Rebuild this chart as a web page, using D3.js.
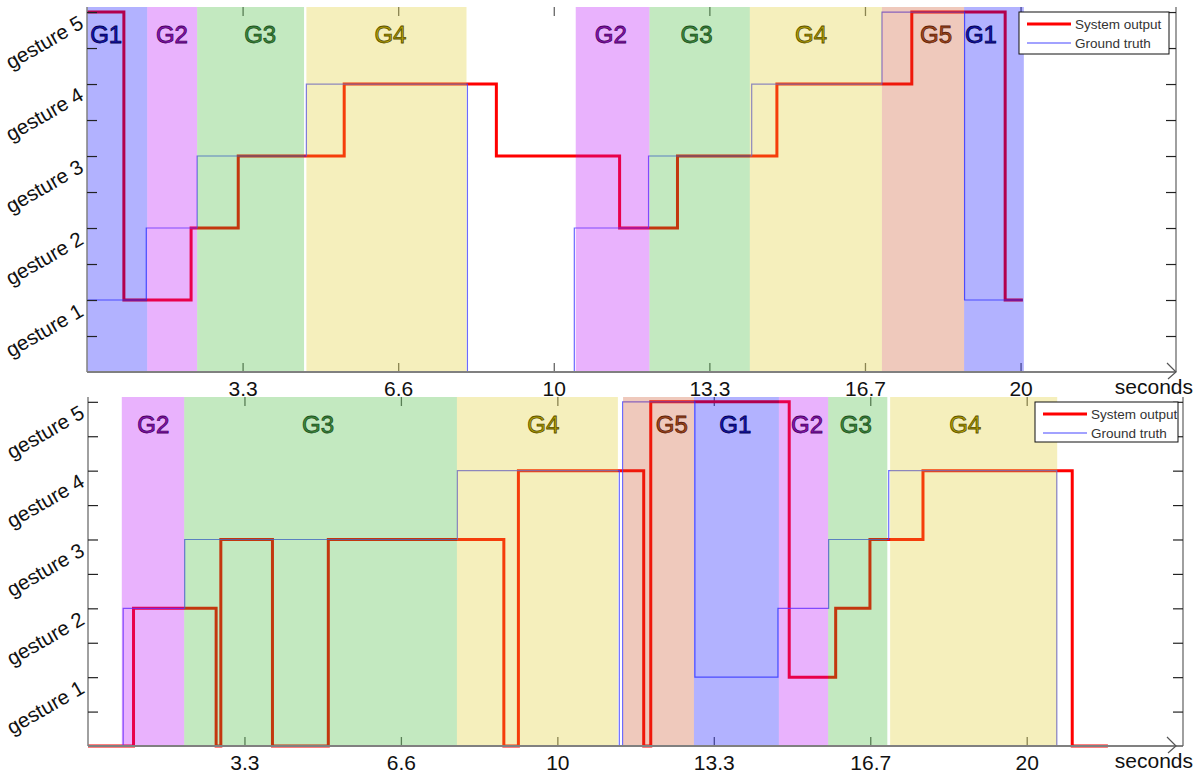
<!DOCTYPE html>
<meta charset="utf-8">
<style>
body { margin: 0; background: #fff; }
svg { display: block; font-family: "Liberation Sans", Arial, sans-serif; }
</style>
<body>
<svg width="1202" height="774"></svg>
<script src="https://d3js.org/d3.v7.min.js"></script>
<script>

// time ticks (seconds) and their printed labels
var timeTicks = [10 / 3, 20 / 3, 10, 40 / 3, 50 / 3, 20];
var timeTickLabels = ["3.3", "6.6", "10", "13.3", "16.7", "20"];
var gestureTicks = [1, 2, 3, 4, 5];
var gestureNames = ["gesture 1", "gesture 2", "gesture 3", "gesture 4", "gesture 5"];
var seriesNames = ["System output", "Ground truth"];

// annotated gesture segments: gesture, start, end, label position (seconds)
var topBands = [
  {g: 1, from: 0,     to: 1.29,  at: 0.41},
  {g: 2, from: 1.29,  to: 2.36,  at: 1.82},
  {g: 3, from: 2.36,  to: 4.65,  at: 3.71},
  {g: 4, from: 4.70,  to: 8.13,  at: 6.50},
  {g: 2, from: 10.47, to: 12.05, at: 11.22},
  {g: 3, from: 12.05, to: 14.20, at: 13.06},
  {g: 4, from: 14.20, to: 17.03, at: 15.51},
  {g: 5, from: 17.03, to: 18.79, at: 18.19},
  {g: 1, from: 18.79, to: 20.07, at: 19.15}
];
var bottomBands = [
  {g: 2, from: 0.72,  to: 2.05,  at: 1.39},
  {g: 3, from: 2.05,  to: 7.86,  at: 4.90},
  {g: 4, from: 7.86,  to: 11.29, at: 9.70},
  {g: 5, from: 11.40, to: 12.91, at: 12.44},
  {g: 1, from: 12.91, to: 14.72, at: 13.79},
  {g: 2, from: 14.72, to: 15.77, at: 15.32},
  {g: 3, from: 15.77, to: 17.03, at: 16.36},
  {g: 4, from: 17.09, to: 20.65, at: 18.69}
];

// step series: [time, gesture]
var topTruth = [[0,1],[1.27,2],[2.36,3],[4.70,4],[8.15,0],[10.44,2],[12.03,3],[14.24,4],[17.03,5],[18.80,1],[20.05,1]];
var topOutput = [[0,5],[0.79,1],[2.23,2],[3.24,3],[5.51,4],[8.77,3],[11.41,2],[12.65,3],[14.78,4],[17.67,5],[19.67,1],[20.05,1]];
var bottomTruth = [[0,0],[0.75,2],[2.06,3],[7.87,4],[11.32,0],[11.39,5],[12.93,1],[14.70,2],[15.78,3],[17.06,4],[20.64,0],[21.73,0]];
var bottomOutput = [[0,0],[0.97,2],[2.73,0],[2.83,3],[3.93,0],[5.12,3],[8.86,0],[9.17,4],[11.84,0],[11.99,5],[14.94,1],[15.93,2],[16.66,3],[17.79,4],[20.97,0],[21.73,0]];

var bandColor = {1: "#0000ff", 2: "#b600f8", 3: "#37b630", 4: "#decb20", 5: "#ca4b20"};
var labelFill = {1: "#1414b4", 2: "#8c14b4", 3: "#3c8c3c", 4: "#b4a000", 5: "#a84a1c"};
var labelStroke = {1: "#000050", 2: "#460060", 3: "#1e501e", 4: "#5a5000", 5: "#5a2008"};

var svg = d3.select("svg");

var panels = [
  {bands: topBands, truth: topTruth, output: topOutput,
   xr: [87, 1176], yr: [372, 7], arrow: 1176, legend: [1019, 12, 150, 42]},
  {bands: bottomBands, truth: bottomTruth, output: bottomOutput,
   xr: [88, 1183], yr: [746, 397], arrow: 1176, legend: [1035, 402, 143, 40]}
];

panels.forEach(function(p) {
  var x = d3.scaleLinear().domain([0, 23.33]).range(p.xr);
  var y = d3.scaleLinear().domain([0, 5.07]).range(p.yr);
  var g = svg.append("g");
  var y0 = y(0), yTop = y(5.07), x0 = x(0), x1 = x(23.33);

  // x ticks, inside the box, bottom and top
  var xb = g.append("g").attr("transform", "translate(0," + y0 + ")")
    .call(d3.axisBottom(x).tickValues(timeTicks).tickSize(-9).tickPadding(9)
      .tickFormat(function(d, i) { return timeTickLabels[i]; }));
  xb.select(".domain").remove();
  xb.selectAll("line").attr("stroke", "#666").attr("stroke-width", 1.3);
  xb.selectAll("text").attr("font-size", 21).attr("fill", "#111").attr("font-family", null);

  var xt = g.append("g").attr("transform", "translate(0," + yTop + ")")
    .call(d3.axisTop(x).tickValues(timeTicks).tickSize(-9).tickFormat(""));
  xt.select(".domain").remove();
  xt.selectAll("line").attr("stroke", "#666").attr("stroke-width", 1.3);

  // series
  var line = d3.line()
    .x(function(d) { return x(d[0]); })
    .y(function(d) { return y(d[1]); })
    .curve(d3.curveStepAfter);

  g.append("path").datum(p.output)
    .attr("d", line).attr("fill", "none")
    .attr("stroke", "#ff0000").attr("stroke-width", 3);
  g.append("path").datum(p.truth)
    .attr("d", line).attr("fill", "none")
    .attr("stroke", "#4646ff").attr("stroke-width", 1.2).attr("stroke-opacity", 0.8);

  // gesture segments laid over the lines
  g.selectAll(".band").data(p.bands).enter().append("rect")
    .attr("x", function(d) { return x(d.from); })
    .attr("width", function(d) { return x(d.to) - x(d.from); })
    .attr("y", yTop)
    .attr("height", y0 - yTop)
    .attr("fill", function(d) { return bandColor[d.g]; })
    .attr("fill-opacity", 0.3);

  g.selectAll(".blabel").data(p.bands).enter().append("text")
    .attr("x", function(d) { return x(d.at); })
    .attr("y", yTop + 36)
    .attr("text-anchor", "middle")
    .attr("font-size", 24)
    .attr("fill", function(d) { return labelFill[d.g]; })
    .attr("stroke", function(d) { return labelStroke[d.g]; })
    .attr("stroke-width", 0.8)
    .text(function(d) { return "G" + d.g; });

  // box lines
  g.append("line").attr("x1", x0).attr("x2", x1).attr("y1", y0).attr("y2", y0)
    .attr("stroke", "#808080").attr("stroke-width", 2);
  g.append("line").attr("x1", x0).attr("x2", x0).attr("y1", yTop).attr("y2", y0)
    .attr("stroke", "#808080").attr("stroke-width", 1.5);
  g.append("line").attr("x1", x1).attr("x2", x1).attr("y1", yTop).attr("y2", y0)
    .attr("stroke", "#606060").attr("stroke-width", 1.2);
  g.append("polyline")
    .attr("points", [[p.arrow - 9, y0 - 9], [p.arrow, y0], [p.arrow - 8, y0 + 7]].join(" "))
    .attr("fill", "none").attr("stroke", "#555").attr("stroke-width", 1.2);

  // y ticks on both sides, pointing inwards
  var half = d3.range(1, 11).map(function(i) { return i / 2; });
  var yl = g.append("g").attr("transform", "translate(" + x0 + ",0)")
    .call(d3.axisLeft(y).tickValues(half).tickSize(-10).tickFormat(""));
  var yr = g.append("g").attr("transform", "translate(" + x1 + ",0)")
    .call(d3.axisRight(y).tickValues(half).tickSize(-10).tickFormat(""));
  [yl, yr].forEach(function(a) {
    a.select(".domain").remove();
    a.selectAll("line").attr("stroke", "#222").attr("stroke-width", 1.2);
  });

  g.selectAll(".glabel").data(gestureTicks).enter().append("text")
    .attr("transform", function(d) {
      return "translate(" + (x0 - 2) + "," + (y(d) + 15) + ") rotate(-30)";
    })
    .attr("text-anchor", "end")
    .attr("font-size", 20.5)
    .attr("fill", "#111")
    .text(function(d, i) { return gestureNames[i]; });

  g.append("text").attr("x", 1193).attr("y", y0 + 22)
    .attr("text-anchor", "end").attr("font-size", 21).attr("fill", "#111")
    .text("seconds");

  // legend
  var L = p.legend;
  var lg = g.append("g").attr("transform", "translate(" + L[0] + "," + L[1] + ")");
  lg.append("rect").attr("width", L[2]).attr("height", L[3])
    .attr("fill", "#fff").attr("stroke", "#111").attr("stroke-width", 1);
  seriesNames.forEach(function(name, i) {
    var ly = 12 + i * 19;
    lg.append("line").attr("x1", 8).attr("x2", 52).attr("y1", ly).attr("y2", ly)
      .attr("stroke", i === 0 ? "#ff0000" : "#4646ff")
      .attr("stroke-width", i === 0 ? 3 : 1.2);
    lg.append("text").attr("x", 56).attr("y", ly + 5)
      .attr("font-size", 13.5).attr("fill", "#333").text(name);
  });
});

</script>
</body>
